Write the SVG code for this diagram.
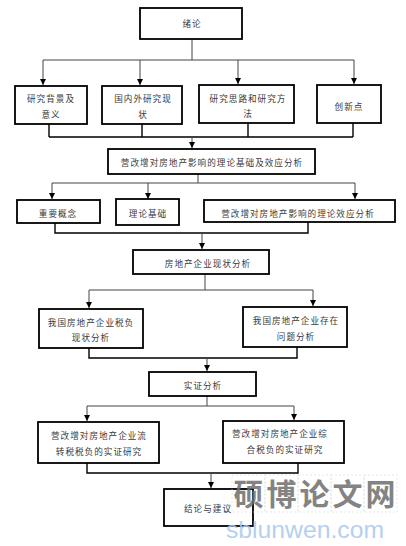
<svg xmlns="http://www.w3.org/2000/svg" width="406" height="546" viewBox="0 0 406 546">
<style>
.box{fill:#fff;stroke:#000;stroke-width:1.8}
.t{font-family:"Noto Sans CJK SC","Liberation Serif",serif;font-size:8.6px;fill:#3a3a3a;text-anchor:middle;letter-spacing:1px}
.c{fill:none;stroke:#444;stroke-width:1}
.m{fill:none;stroke:#000;stroke-width:1.4}
.wm{font-family:"Noto Sans CJK SC",sans-serif;font-size:30px;font-weight:bold;fill:#6e6e6e;text-anchor:middle}
.wu{font-family:"Liberation Sans",sans-serif;font-size:24px;fill:#a9c8ee}
.cell{fill:none;stroke:#ddd;stroke-width:0.8;stroke-dasharray:2 2}
</style>
<defs>
<marker id="ah" markerUnits="userSpaceOnUse" markerWidth="6" markerHeight="6" refX="6" refY="3" orient="auto">
<path d="M0,0 L6,3 L0,6 z" fill="#000"/>
</marker>
</defs>
<rect width="406" height="546" fill="#fff"/>
<g id="connectors">
<path class="c" d="M192,39 V60 M43,60 H354"/>
<path class="c" d="M43,60 V85" marker-end="url(#ah)"/>
<path class="c" d="M140,60 V85" marker-end="url(#ah)"/>
<path class="c" d="M238,60 V84" marker-end="url(#ah)"/>
<path class="c" d="M354,60 V84" marker-end="url(#ah)"/>
<path class="m" d="M49,124 V137 M142,124 V137 M248,123 V137 M353,123 V137 M49,137 H353"/>
<path class="c" d="M192,137 V148" marker-end="url(#ah)"/>
<path class="c" d="M198,174 V183 M52,183 H355"/>
<path class="c" d="M52,183 V199" marker-end="url(#ah)"/>
<path class="c" d="M148,183 V199" marker-end="url(#ah)"/>
<path class="c" d="M355,183 V199" marker-end="url(#ah)"/>
<path class="m" d="M55,223 V233 H308 V222"/>
<path class="c" d="M202,233 V249" marker-end="url(#ah)"/>
<path class="c" d="M205,274 V290 M89,290 H313"/>
<path class="c" d="M89,290 V308" marker-end="url(#ah)"/>
<path class="c" d="M313,290 V306" marker-end="url(#ah)"/>
<path class="m" d="M89,348 V358 H297 V347"/>
<path class="c" d="M207,358 V371" marker-end="url(#ah)"/>
<path class="c" d="M207,396 V406 M87,406 H294"/>
<path class="c" d="M87,406 V421" marker-end="url(#ah)"/>
<path class="c" d="M294,406 V420" marker-end="url(#ah)"/>
<path class="m" d="M87,463 V473 H298 V463"/>
<path class="c" d="M211,473 V488" marker-end="url(#ah)"/>
</g>
<g id="n1"><rect class="box" x="140" y="8" width="102" height="31"/><text class="t" x="192" y="27">绪论</text></g>
<g id="n2"><rect class="box" x="15" y="86" width="72" height="38"/><text class="t" x="51" y="102">研究背景及</text><text class="t" x="51" y="118">意义</text></g>
<g id="n3"><rect class="box" x="102" y="86" width="80" height="38"/><text class="t" x="143" y="102">国内外研究现</text><text class="t" x="143" y="118">状</text></g>
<g id="n4"><rect class="box" x="199" y="85" width="95" height="38"/><text class="t" x="248" y="102">研究思路和研究方</text><text class="t" x="248" y="117">法</text></g>
<g id="n5"><rect class="box" x="317" y="85" width="64" height="38"/><text class="t" x="349" y="110">创新点</text></g>
<g id="n6"><rect class="box" x="108" y="149" width="207" height="25"/><text class="t" x="212" y="166">营改增对房地产影响的理论基础及效应分析</text></g>
<g id="n7"><rect class="box" x="17" y="200" width="83" height="23"/><text class="t" x="58" y="217">重要概念</text></g>
<g id="n8"><rect class="box" x="116" y="199" width="63" height="26"/><text class="t" x="148" y="217">理论基础</text></g>
<g id="n9"><rect class="box" x="204" y="200" width="191" height="22"/><text class="t" x="298" y="217">营改增对房地产影响的理论效应分析</text></g>
<g id="n10"><rect class="box" x="133" y="250" width="136" height="24"/><text class="t" x="208" y="267">房地产企业现状分析</text></g>
<g id="n11"><rect class="box" x="39" y="309" width="104" height="39"/><text class="t" x="91" y="326">我国房地产企业税负</text><text class="t" x="91" y="341">现状分析</text></g>
<g id="n12"><rect class="box" x="243" y="307" width="104" height="40"/><text class="t" x="296" y="324">我国房地产企业存在</text><text class="t" x="296" y="340">问题分析</text></g>
<g id="n13"><rect class="box" x="149" y="372" width="107" height="24"/><text class="t" x="203" y="389">实证分析</text></g>
<g id="n14"><rect class="box" x="38" y="422" width="121" height="41"/><text class="t" x="99" y="439">营改增对房地产企业流</text><text class="t" x="99" y="455">转税税负的实证研究</text></g>
<g id="n15"><rect class="box" x="223" y="421" width="121" height="42"/><text class="t" x="280" y="437">营改增对房地产企业综</text><text class="t" x="285" y="453">合税负的实证研究</text></g>
<g id="n16"><rect class="box" x="164" y="489" width="89" height="37"/><text class="t" x="208" y="512">结论与建议</text></g>
<g id="watermark" opacity="0.85">
<rect class="cell" x="232" y="475" width="33" height="37"/>
<rect class="cell" x="265" y="475" width="33" height="37"/>
<rect class="cell" x="298" y="475" width="33" height="37"/>
<rect class="cell" x="331" y="475" width="33" height="37"/>
<rect class="cell" x="364" y="475" width="33" height="37"/>
<text class="wm" x="248.5" y="505">硕</text>
<text class="wm" x="281.5" y="505">博</text>
<text class="wm" x="314.5" y="505">论</text>
<text class="wm" x="347.5" y="505">文</text>
<text class="wm" x="380.5" y="505">网</text>
<text class="wu" x="226" y="538" textLength="158" lengthAdjust="spacingAndGlyphs">sblunwen.com</text>
</g>
</svg>
